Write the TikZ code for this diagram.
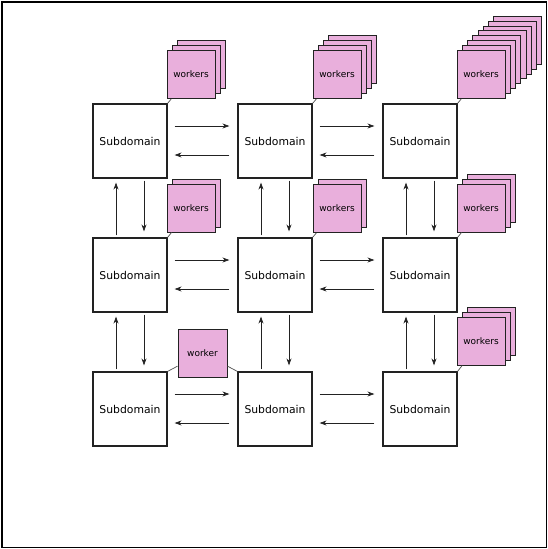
\documentclass[tikz,border=0pt]{standalone}
\usepackage{fontspec}
\setmainfont{DejaVu Sans}
\usetikzlibrary{arrows.meta}
\definecolor{workerpink}{HTML}{E9AFDC}
\definecolor{edgeink}{HTML}{222222}
\begin{document}
\begin{tikzpicture}[x=1pt,y=-1pt,
  subbox/.style={draw=edgeink, line width=1.2pt, fill=white,
    minimum width=74pt, minimum height=74pt, inner sep=0pt,
    font=\fontsize{10.8}{12}\selectfont},
  wbox/.style={draw=edgeink, line width=0.9pt, fill=workerpink,
    minimum width=48pt, minimum height=48pt, inner sep=0pt,
    font=\fontsize{9}{10}\selectfont},
  flow/.style={draw=edgeink, line width=0.7pt,
    -{Stealth[length=7pt,width=5pt]}},
  tie/.style={draw=edgeink!80, line width=0.7pt}]
\useasboundingbox (0,0) rectangle (548,549);
\draw[line width=1.8pt] (1.9,1.9) rectangle (546.5,547.5);

% subdomain grid
\foreach \r/\y in {1/141,2/275,3/409}
  \foreach \c/\x in {1/130,2/275,3/420}
    \node[subbox] (s\r\c) at (\x,\y) {Subdomain};

% stacked worker pools: name / centre x / centre y / number of layers / corner
\foreach \nm/\cx/\cy/\n/\sd in {w11/191/74.5/3/s11, w12/337/74.5/4/s12,
    w13/481/74.5/8/s13, w21/191/208/2/s21, w22/337/208.5/2/s22,
    w23/481/208/3/s23, w33/481/341/3/s33}{
  \pgfmathtruncatemacro\last{\n-1}
  \foreach \k in {\last,...,1}
    \node[wbox] (\nm-\k) at ({\cx+5.25*\k},{\cy-4.9*\k}) {};
  \node[wbox] (\nm) at (\cx,\cy) {workers};
  \draw[tie] (\sd.north east) -- (\nm);
}

% single worker shared by two subdomains
\node[wbox, minimum width=49pt] (w31) at (202.5,353) {worker};
\draw[tie] (s31.north east) -- (w31);
\draw[tie] (s32.north west) -- (w31);

% horizontal exchanges
\foreach \r in {1,2,3}
  \foreach \c/\d in {1/2,2/3}{
    \draw[flow, shorten <=7pt, shorten >=8pt]
      ([yshift=15pt]s\r\c.east) -- ([yshift=15pt]s\r\d.west);
    \draw[flow, shorten <=8pt, shorten >=7pt]
      ([yshift=-14pt]s\r\d.west) -- ([yshift=-14pt]s\r\c.east);
  }

% vertical exchanges
\foreach \c in {1,2,3}
  \foreach \r/\q in {1/2,2/3}{
    \draw[flow, shorten <=2pt, shorten >=4pt]
      ([xshift=-14pt]s\q\c.north) -- ([xshift=-14pt]s\r\c.south);
    \draw[flow, shorten <=2pt, shorten >=6pt]
      ([xshift=14pt]s\r\c.south) -- ([xshift=14pt]s\q\c.north);
  }
\end{tikzpicture}
\end{document}
